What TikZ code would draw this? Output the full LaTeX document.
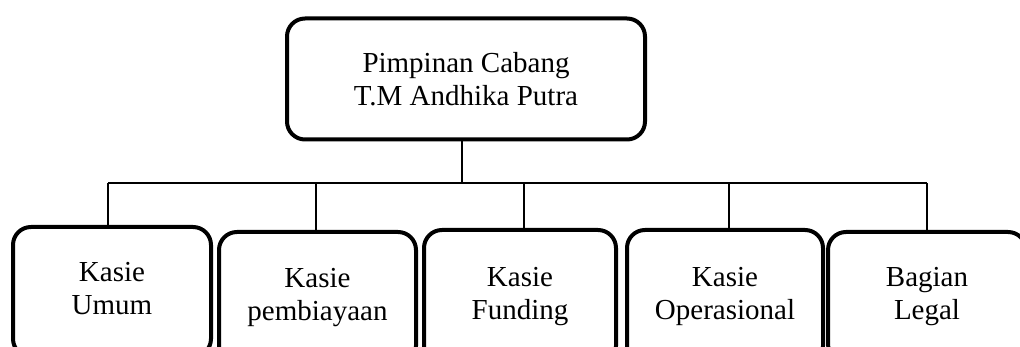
\documentclass[tikz,border=0pt]{standalone}
\usepackage{fontspec}
\setmainfont{Liberation Serif}
\begin{document}
\begin{tikzpicture}[x=1pt,y=1pt,
  box/.style={draw=black, line width=4pt, rounded corners=18pt, align=center,
    font=\fontsize{29}{33}\selectfont, inner sep=0pt},
  link/.style={draw=black, line width=1.3pt}]
\clip (0,0) rectangle (1020,347);
\useasboundingbox (0,0) rectangle (1020,347);
\node[box, minimum width=358pt, minimum height=121pt] (top) at (466,268) {Pimpinan Cabang\\T.M Andhika Putra};
\node[box, minimum width=198pt, minimum height=129.8pt] (c1) at (112,55.1) {\strut Kasie\\\strut Umum};
\node[box, minimum width=197pt, minimum height=131.8pt] (c2) at (317.5,49.1) {\strut Kasie\\\strut pembiayaan};
\node[box, minimum width=192pt, minimum height=133.8pt] (c3) at (520,50.1) {\strut Kasie\\\strut Funding};
\node[box, minimum width=196pt, minimum height=133.8pt] (c4) at (725,50.1) {\strut Kasie\\\strut Operasional};
\node[box, minimum width=198pt, minimum height=129.8pt] (c5) at (927,50.1) {\strut Bagian\\\strut Legal};
\coordinate (bus) at (462,164);
\draw[link] (top.south -| bus) -- (bus);
\coordinate (d1) at ([xshift=-4pt]c1.north);
\coordinate (d2) at ([xshift=-1.5pt]c2.north);
\coordinate (d3) at ([xshift=4pt]c3.north);
\coordinate (d4) at ([xshift=4pt]c4.north);
\coordinate (d5) at (c5.north);
\draw[link] (d1 |- bus) -- (d5 |- bus);
\foreach \d in {d1,d2,d3,d4,d5} {\draw[link] (\d |- bus) -- (\d);}
\end{tikzpicture}
\end{document}
